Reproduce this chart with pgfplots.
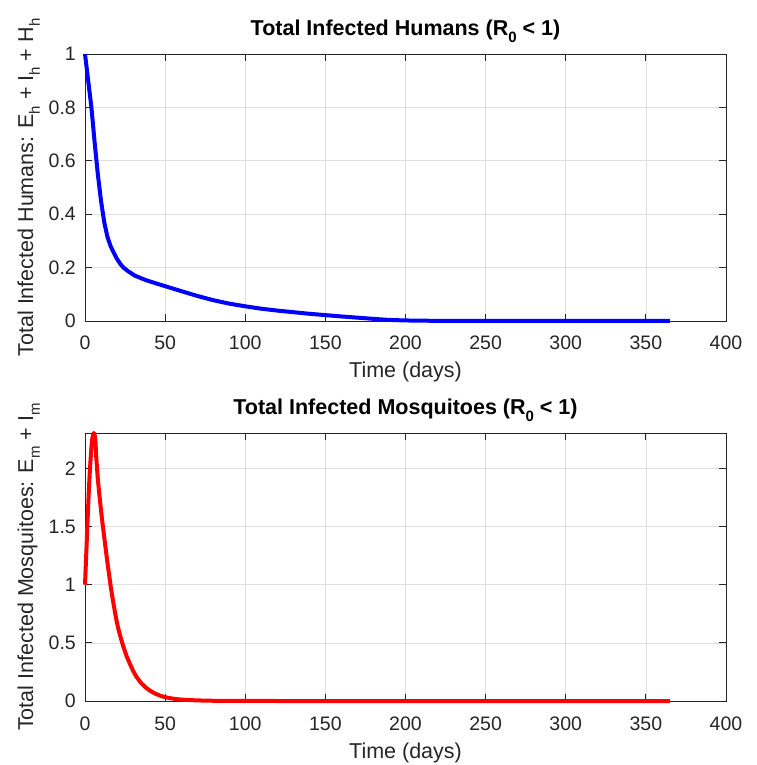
\documentclass[border=0pt]{standalone}
\usepackage{fontspec}
\setmainfont{Liberation Sans}
\usepackage{pgfplots}
\pgfplotsset{compat=1.18}
\definecolor{axgray}{RGB}{38,38,38}
\definecolor{gridgray}{RGB}{223,223,223}
\newcommand\sub[1]{\raisebox{-0.32em}{\fontsize{15}{15}\selectfont #1}}
\pgfplotsset{
 mstyle/.style={
  scale only axis, width=641pt,
  xmin=0, xmax=400, xtick={0,50,...,400},
  grid=major, major grid style={gridgray, line width=0.7pt},
  axis line style={axgray, line width=0.8pt},
  tick style={axgray, line width=0.8pt},
  major tick length=7pt, tick align=inside,
  xtick pos=both, ytick pos=both,
  /pgf/number format/assume math mode=true,
  tick label style={font=\fontsize{19.5}{22}\selectfont, text=axgray},
  x tick label style={anchor=base, yshift=-29pt},
  y tick label style={anchor=east, inner sep=0pt},
  yticklabel shift=9pt,
  title style={at={(axis description cs:0.5,1)}, anchor=base, yshift=12pt, font=\bfseries\fontsize{21.5}{24}\selectfont},
  xlabel style={at={(axis description cs:0.5,0)}, anchor=base, yshift=-57pt, font=\fontsize{21.5}{24}\selectfont, text=axgray},
  ylabel style={at={(axis description cs:-0.0811,0.5)}, anchor=base, font=\fontsize{21.5}{24}\selectfont, text=axgray},
  clip=false,
 }
}
\begin{document}
\begin{tikzpicture}
\useasboundingbox (-85pt,-64pt) rectangle (671pt,701pt);
\begin{axis}[mstyle, at={(0pt,380pt)}, anchor=south west, height=267pt,
  ymin=0, ymax=1, ytick={0,0.2,...,1},
  title={Total Infected Humans (R\sub{\bfseries 0} < 1)},
  xlabel={Time (days)},
  ylabel={Total Infected Humans: E\sub{h} + I\sub{h} + H\sub{h}}]
\addplot[blue, line width=4pt, line join=round, no marks] table {
x y
0 1.0
2 0.90
4 0.80
6 0.67
8 0.55
10 0.45
12 0.37
14 0.315
16 0.28
18 0.255
20 0.232
22 0.214
24 0.200
27 0.186
31 0.170
38 0.153
48 0.134
60 0.112
70 0.094
80 0.078
90 0.065
100 0.055
110 0.046
120 0.039
140 0.027
160 0.017
180 0.008
190 0.004
200 0.002
220 0.0005
250 0
300 0
365 0
};
\end{axis}
\begin{axis}[mstyle, at={(0pt,0pt)}, anchor=south west, height=268pt,
  ymin=0, ymax=2.305, ytick={0,0.5,...,2},
  title={Total Infected Mosquitoes (R\sub{\bfseries 0} < 1)},
  xlabel={Time (days)},
  ylabel={Total Infected Mosquitoes: E\sub{m} + I\sub{m}}]
\addplot[red, line width=4pt, line join=round, no marks] table {
x y
0 1.0
0.5 1.17
1 1.34
1.5 1.52
2 1.68
2.5 1.84
3 1.97
3.5 2.08
4 2.18
4.5 2.25
5 2.29
5.5 2.305
6 2.29
6.5 2.24
7 2.10
8 1.91
9 1.77
10 1.64
11 1.52
12 1.41
13 1.30
14 1.19
15 1.09
16 0.99
17 0.90
18 0.82
19 0.74
20 0.67
21 0.61
22 0.56
23 0.51
24 0.465
26 0.385
28 0.32
30 0.26
32 0.21
35 0.155
38 0.115
41 0.085
44 0.062
48 0.040
52 0.027
56 0.018
60 0.012
70 0.005
80 0.002
100 0.0005
120 0
200 0
365 0
};
\end{axis}
\end{tikzpicture}
\end{document}
